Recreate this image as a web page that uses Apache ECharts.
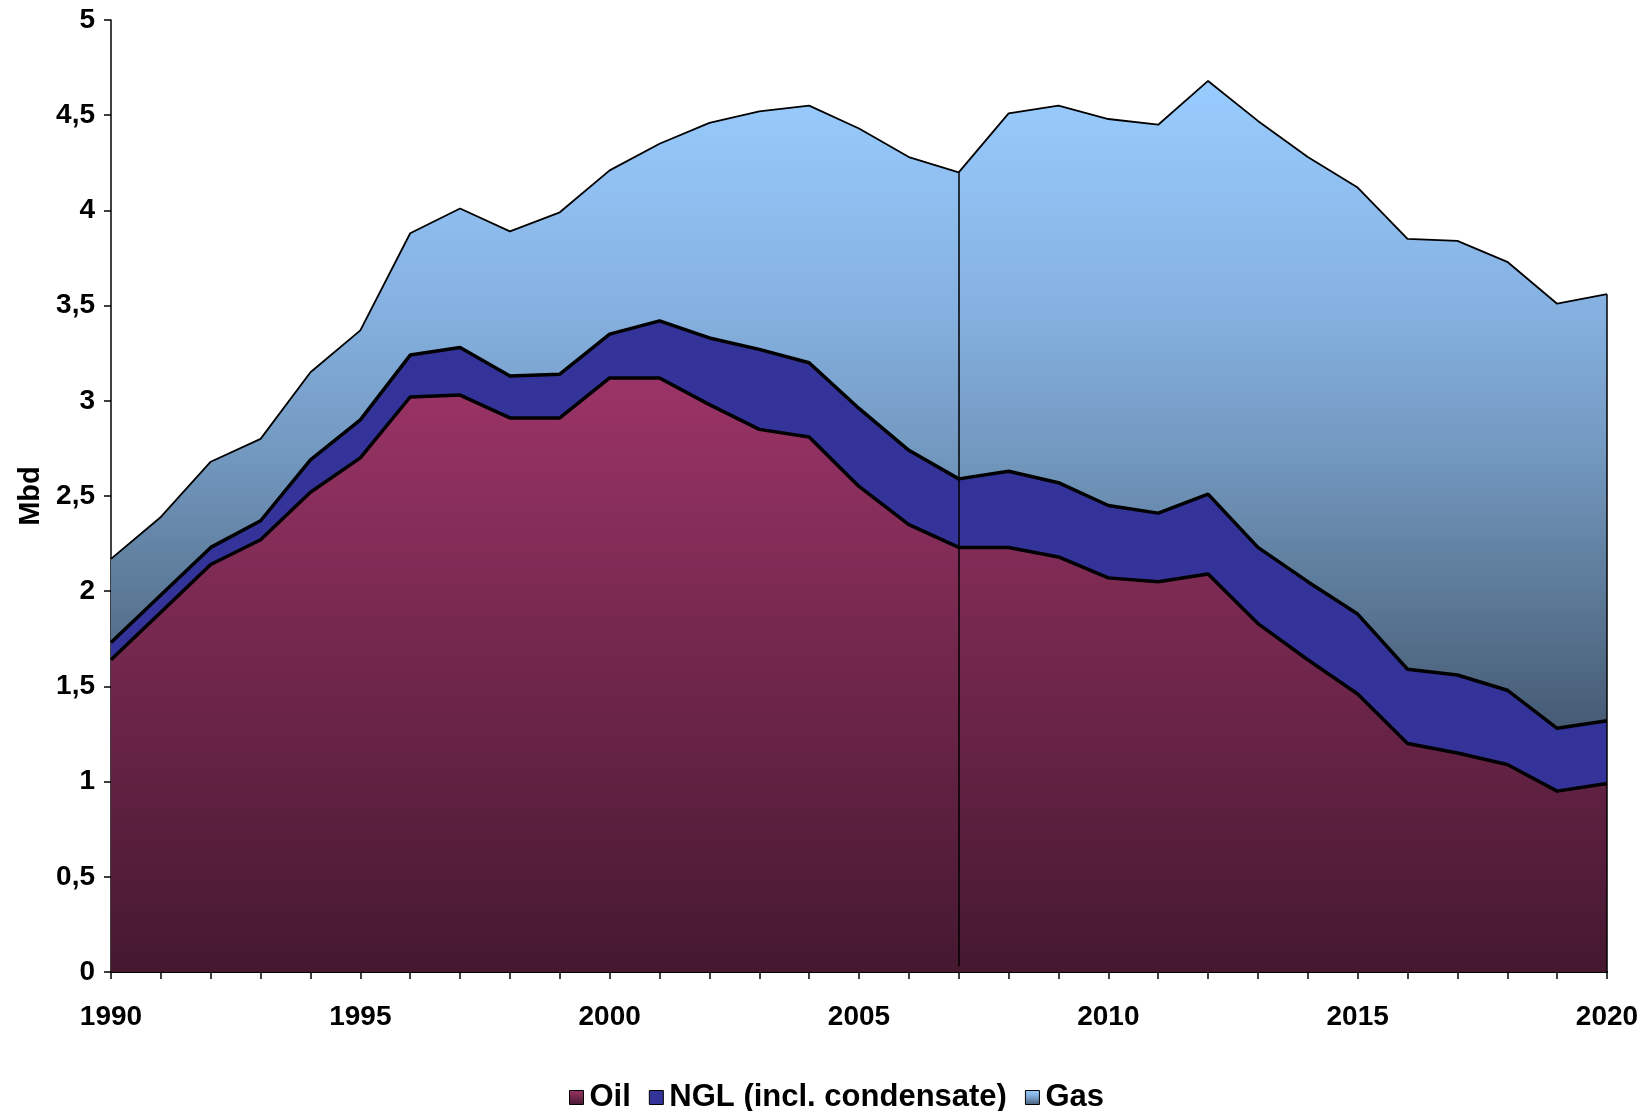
<!DOCTYPE html>
<html>
<head>
<meta charset="utf-8">
<title>Mbd</title>
<script src="https://cdn.jsdelivr.net/npm/echarts@6/dist/echarts.min.js"></script>
<style>
    html, body { margin: 0; padding: 0; background: #fff; }
    #myChart { width: 1650px; height: 1111px; }
</style>
</head>
<body>
<div id="myChart"></div>
<script>
// years on the x axis
const years = ['1990','1991','1992','1993','1994','1995','1996','1997','1998','1999',
    '2000','2001','2002','2003','2004','2005','2006','2007','2008','2009',
    '2010','2011','2012','2013','2014','2015','2016','2017','2018','2019','2020'];

// Mbd, stacked from the bottom
const oil = [1.64,1.89,2.14,2.27,2.52,2.70,3.02,3.03,2.91,2.91,3.12,3.12,2.98,2.85,2.81,2.55,
    2.35,2.23,2.23,2.18,2.07,2.05,2.09,1.83,1.64,1.46,1.20,1.15,1.09,0.95,0.99];
const ngl = [0.09,0.09,0.09,0.10,0.17,0.20,0.22,0.25,0.22,0.23,0.23,0.30,0.35,0.42,0.39,0.41,
    0.39,0.36,0.40,0.39,0.38,0.36,0.42,0.40,0.41,0.42,0.39,0.41,0.39,0.33,0.33];
const gas = [0.44,0.41,0.45,0.43,0.46,0.47,0.64,0.73,0.76,0.85,0.86,0.93,1.13,1.25,1.35,1.47,
    1.54,1.61,1.88,1.98,2.03,2.04,2.17,2.24,2.23,2.24,2.26,2.28,2.25,2.23,2.24];

// year where the vertical marker sits
const markYear = '2007';

document.addEventListener('DOMContentLoaded', () => {
    var myChart = echarts.init(document.getElementById('myChart'));

    const total = years.map((y, i) => oil[i] + ngl[i] + gas[i]);
    const mi = years.indexOf(markYear);
    const last = years.length - 1;

    const font = '"Liberation Sans", Arial, sans-serif';

    function grad(stops) {
        return new echarts.graphic.LinearGradient(0, 0, 0, 1,
            stops.map(s => ({ offset: s[0], color: s[1] })));
    }

    const oilFill = grad([[0, '#9b3466'], [1, '#451830']]);
    const nglFill = '#333399';
    const gasFill = grad([[0, '#99ccff'], [0.34, '#86b2e2'], [0.57, '#7399c0'], [0.8, '#5b7896'], [1, '#465b74']]);

    const option = {
        animation: false,
        backgroundColor: '#fff',
        grid: { left: 111, right: 43, top: 20, bottom: 139 },
        legend: {
            left: 564,
            top: 1077,
            icon: 'rect',
            itemWidth: 14,
            itemHeight: 14,
            itemGap: 18,
            itemStyle: { borderColor: '#000', borderWidth: 1 },
            textStyle: { fontFamily: font, fontWeight: 'bold', fontSize: 31, color: '#000', padding: [0, 0, 0, 1] },
            data: ['Oil', 'NGL (incl. condensate)', 'Gas']
        },
        xAxis: {
            type: 'category',
            data: years,
            boundaryGap: false,
            axisLine: { lineStyle: { color: '#000', width: 2 } },
            axisTick: { show: true, inside: false, length: 7, interval: 0, lineStyle: { color: '#000', width: 1.5 } },
            axisLabel: {
                interval: 4,
                margin: 31,
                fontFamily: font, fontWeight: 'bold', fontSize: 28, color: '#000'
            },
            splitLine: { show: false }
        },
        yAxis: {
            type: 'value',
            min: 0, max: 5, interval: 0.5,
            name: 'Mbd',
            nameLocation: 'middle',
            nameGap: 65,
            nameRotate: 90,
            nameTextStyle: { fontFamily: font, fontWeight: 'bold', fontSize: 29, color: '#000' },
            axisLine: { show: true, lineStyle: { color: '#000', width: 1.5 } },
            axisTick: { show: true, length: 7, lineStyle: { color: '#000', width: 1.5 } },
            axisLabel: {
                margin: 16,
                fontFamily: font, fontWeight: 'bold', fontSize: 28, color: '#000',
                formatter: v => String(v).replace('.', ',')
            },
            splitLine: { show: false }
        },
        series: [
            {
                name: 'Oil', type: 'line', stack: 'total', data: oil,
                symbol: 'none',
                lineStyle: { color: '#000', width: 3.5 },
                itemStyle: { color: oilFill },
                areaStyle: { color: oilFill, opacity: 1 }
            },
            {
                name: 'NGL (incl. condensate)', type: 'line', stack: 'total', data: ngl,
                symbol: 'none',
                lineStyle: { color: '#000', width: 3.5 },
                itemStyle: { color: nglFill },
                areaStyle: { color: nglFill, opacity: 1 }
            },
            {
                name: 'Gas', type: 'line', stack: 'total', data: gas,
                symbol: 'none',
                lineStyle: { color: '#000', width: 1.8 },
                itemStyle: { color: gasFill },
                areaStyle: { color: gasFill, opacity: 1 },
                markLine: {
                    silent: true,
                    symbol: ['none', 'none'],
                    label: { show: false },
                    lineStyle: { color: '#000', width: 1.5, type: 'solid' },
                    data: [
                        [{ coord: [markYear, 0.03] }, { coord: [markYear, total[mi]] }],
                        [{ coord: [years[last], 0] }, { coord: [years[last], total[last]] }]
                    ]
                }
            }
        ]
    };

    myChart.setOption(option);
});
</script>
</body>
</html>
